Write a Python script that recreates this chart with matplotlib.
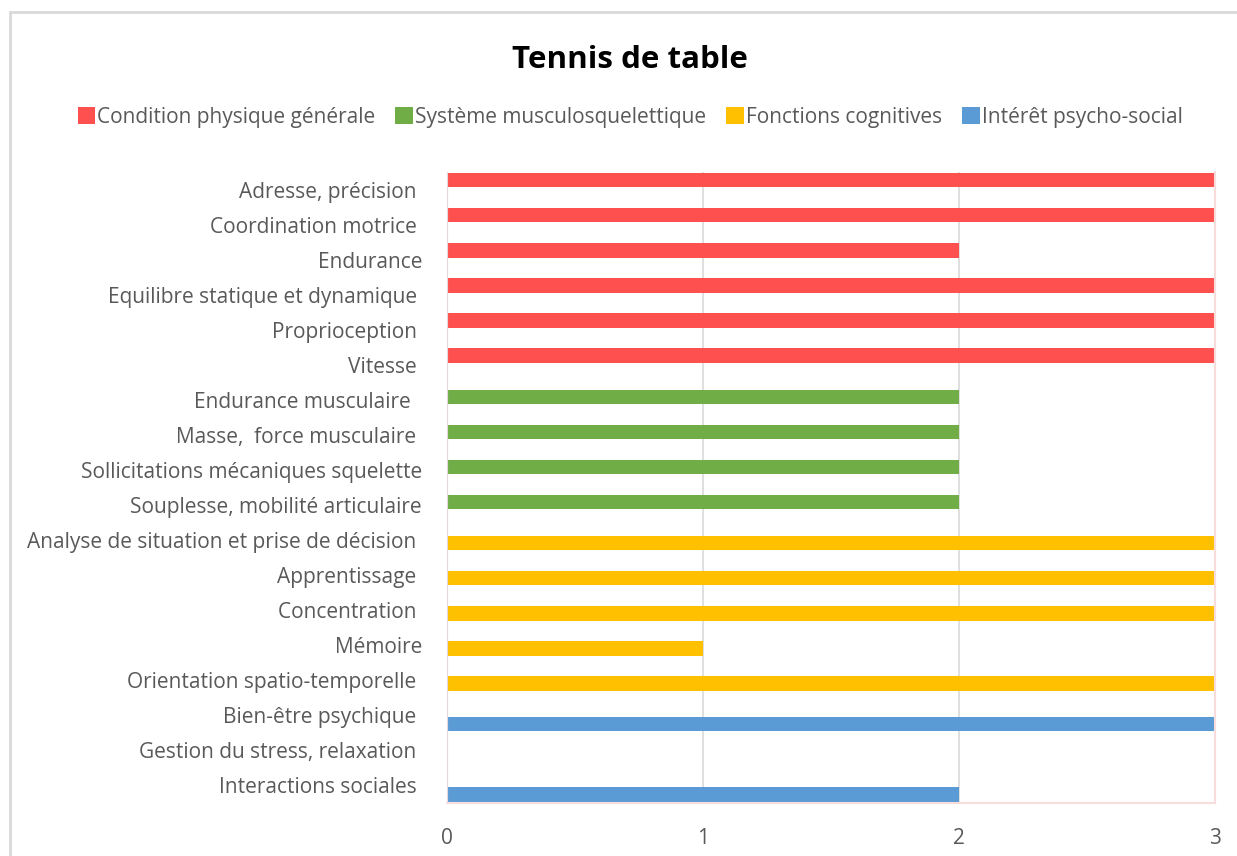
import numpy as np
import matplotlib.pyplot as plt
from matplotlib.patches import Rectangle

categories = [
    "Adresse, précision ", "Coordination motrice ", "Endurance",
    "Equilibre statique et dynamique ", "Proprioception ", "Vitesse ",
    "Endurance musculaire  ", "Masse,  force musculaire ",
    "Sollicitations mécaniques squelette", "Souplesse, mobilité articulaire",
    "Analyse de situation et prise de décision ", "Apprentissage ",
    "Concentration ", "Mémoire", "Orientation spatio-temporelle ",
    "Bien-être psychique ", "Gestion du stress, relaxation ",
    "Interactions sociales ",
]
series_names = ["Condition physique générale", "Système musculosquelettique",
                "Fonctions cognitives", "Intérêt psycho-social"]
condition = [3, 3, 2, 3, 3, 3, 0, 0, 0, 0, 0, 0, 0, 0, 0, 0, 0, 0]
musculo = [0, 0, 0, 0, 0, 0, 2, 2, 2, 2, 0, 0, 0, 0, 0, 0, 0, 0]
cognitif = [0, 0, 0, 0, 0, 0, 0, 0, 0, 0, 3, 3, 3, 1, 3, 0, 0, 0]
psycho = [0, 0, 0, 0, 0, 0, 0, 0, 0, 0, 0, 0, 0, 0, 0, 3, 0, 2]
colors = ["#FF5050", "#70AD47", "#FFC000", "#5B9BD5"]

plt.rcParams['font.family'] = ['Open Sans', 'DejaVu Sans']
text_color = "#595959"

fig = plt.figure(figsize=(12.37, 8.56), dpi=100)
# chart frame
fig.patches.append(Rectangle((10 / 1237, -0.01), 1.02, (856 - 12) / 856 + 0.01,
                             transform=fig.transFigure, fill=False,
                             edgecolor="#D9D9D9", linewidth=2))

ax = fig.add_axes([447 / 1237, 53 / 856, 768 / 1237, 631 / 856])
y = np.arange(len(categories))
offsets = [-0.265, -0.09, 0.09, 0.255]
for vals, off, col, name in zip([condition, musculo, cognitif, psycho],
                                offsets, colors, series_names):
    ax.barh(y + off, vals, height=0.41, color=col, label=name)

ax.set_xlim(0, 3)
ax.set_ylim(len(categories) - 0.5, -0.5)
ax.set_xticks([0, 1, 2, 3])
ax.set_yticks(y)
ax.set_yticklabels(categories)
ax.xaxis.grid(True, color="#D9D9D9", linewidth=1.2)
ax.set_axisbelow(True)
ax.tick_params(axis='both', length=0, labelsize=15, labelcolor=text_color)
ax.tick_params(axis='y', pad=18)
ax.tick_params(axis='x', pad=18)
for side in ['right', 'bottom']:
    ax.spines[side].set_color("#F9DCDC")
    ax.spines[side].set_linewidth(1.5)
ax.spines['top'].set_visible(False)
ax.spines['left'].set_color("#E6D8DA")

fig.text(630 / 1237, 1 - 60 / 856, "Tennis de table", ha='center', va='center',
         fontsize=22.5, fontweight='bold', color='black')
handles, labels = ax.get_legend_handles_labels()
fig.legend(handles, labels, loc='center', bbox_to_anchor=(630 / 1237, 1 - 117 / 856),
           ncol=4, frameon=False, fontsize=15, labelcolor=text_color,
           handlelength=0.85, handleheight=0.85, handletextpad=0.1,
           columnspacing=0.95)

fig.savefig("out.png", dpi=100)
